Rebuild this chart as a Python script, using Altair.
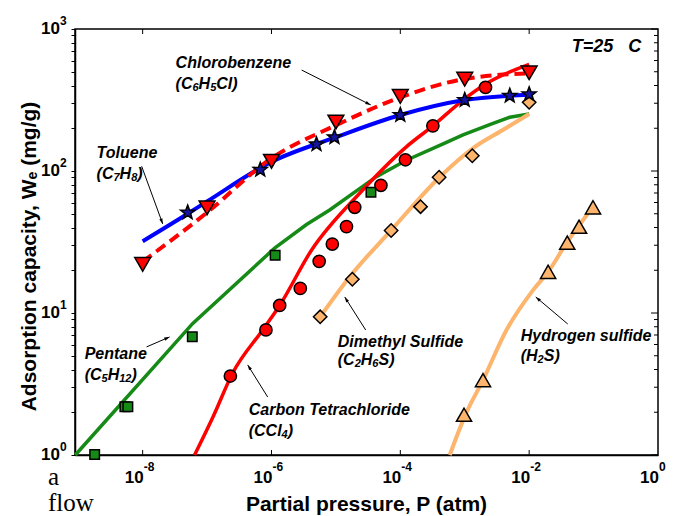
import math
import altair as alt
import pandas as pd

# ---------------- data ----------------
# Toluene (stars, blue line)
tol_mx = [5e-8, 6.7e-7, 5e-6, 9.5e-6, 1e-4, 1e-3, 5e-3, 1e-2]
tol_my = [51, 102, 154, 173, 248, 316, 339, 347]
tol_lx = [1e-8, 5e-8, 1e-7, 1e-6, 1e-5, 1e-4, 1e-3, 1e-2]
tol_ly = [32, 50, 61, 116, 173, 248, 316, 345]

# Chlorobenzene (down triangles, red dashed line)
chl_mx = [1e-8, 1e-7, 1e-6, 1e-5, 1e-4, 1e-3, 1e-2]
chl_my = [22, 55, 117, 221, 335, 443, 492]
chl_lx = [1e-8, 1e-7, 1e-6, 1e-5, 1e-4, 1e-3, 1e-2]
chl_ly = [23, 51, 123, 210, 330, 445, 487]

# Carbon tetrachloride (circles, red line)
ccl_mx = [2.3e-7, 8.2e-7, 1.34e-6, 2.8e-6, 5.5e-6, 8.8e-6, 1.46e-5, 1.96e-5, 5.0e-5, 1.2e-4, 3.2e-4, 2.1e-3]
ccl_my = [3.6, 7.6, 11.3, 14.9, 23.1, 30.6, 40.6, 55.5, 79.3, 120, 208, 388]
ccl_lx = [6.4e-8, 1.24e-7, 2.5e-7, 7.3e-7, 1.34e-6, 4.2e-6, 2.34e-5, 1.24e-4, 3.2e-4, 9.4e-4, 2.2e-3, 1e-2]
ccl_ly = [1, 1.86, 3.78, 7.6, 11.3, 27.8, 69.7, 148, 208, 316, 415, 564]

# Pentane (squares, green line)
pen_mx = [1.8e-9, 5.3e-9, 5.9e-9, 5.9e-8, 1.14e-6, 3.5e-5]
pen_my = [1.01, 2.19, 2.19, 6.8, 25.5, 70.8]
pen_lx = [9e-10, 6e-8, 1.12e-6, 3.5e-6, 8e-6, 4.26e-5, 1.24e-4, 4.9e-4, 9.4e-4, 2.5e-3, 5e-3, 1e-2]
pen_ly = [1, 8.45, 28.6, 42, 53.1, 91.2, 119, 157, 179.5, 213, 239, 252]

# Dimethyl sulfide (diamonds, orange line)
dms_mx = [5.7e-6, 1.8e-5, 7.2e-5, 2.06e-4, 4.0e-4, 1.31e-3, 1e-2]
dms_my = [9.4, 17.3, 38.1, 56.1, 90.3, 128, 305]
dms_lx = [5.8e-6, 1.64e-5, 7.3e-5, 4.1e-4, 1.35e-3, 3.9e-3, 1e-2]
dms_ly = [9.5, 18, 38.5, 90.8, 145, 194.6, 252]

# Hydrogen sulfide (up triangles, orange line)
h2s_mx = [9.75e-4, 1.92e-3, 1.97e-2, 3.9e-2, 5.95e-2, 9.8e-2]
h2s_my = [1.92, 3.37, 19.5, 31.3, 40.5, 55.5]
h2s_lx = [5.85e-4, 1.02e-3, 1.92e-3, 4.45e-3, 1.15e-2, 1.97e-2, 3.79e-2, 9.8e-2]
h2s_ly = [1, 1.91, 3.37, 7.59, 14.5, 19.5, 31, 56]

# annotations: compound names and formulas ("_" marks a subscript)
name_text = ["Chlorobenzene", "Toluene", "Pentane", "Carbon Tetrachloride",
             "Dimethyl Sulfide", "Hydrogen sulfide"]
formula_text = ["(C_6H_5Cl)", "(C_7H_8)", "(C_5H_12)", "(CCl_4)", "(C_2H_6S)", "(H_2S)"]
ann_x = [3.25e-8, 1.93e-9, 1.26e-9, 4.43e-7, 1.07e-5, 7.4e-3]
name_y = [577, 134, 5.14, 2.07, 6.25, 6.89]
formula_y = [410, 95.3, 3.66, 1.476, 4.67, 4.98]

arr_x1 = [2.94e-6, 9.65e-9, 1.15e-8, 8.73e-7, 2.9e-5, 0.0397]
arr_y1 = [514, 108, 5.77, 2.56, 7.59, 8.37]
arr_x2 = [3.47e-5, 2.05e-8, 2.62e-8, 4.27e-7, 1.37e-5, 0.01265]
arr_y2 = [292, 42.4, 6.78, 4.31, 12.97, 12.97]
arr_angle = [117, 160, 66.5, 328, 327.5, 310]

temp_text = "T=25\u00a0\u00a0\u00a0C"
temp_x, temp_y = 0.0458, 747

x_major = [1e-8, 1e-6, 1e-4, 1e-2, 1.0]
x_exp = ["-8", "-6", "-4", "-2", "0"]
y_major = [1, 10, 100, 1000]
y_exp = ["0", "1", "2", "3"]
y_minor = [m * d for d in [1, 10, 100] for m in range(2, 10)]

# ---------------- chart ----------------
W, H = 583, 426
LOG_XMIN, LOG_XMAX = -9.05, 0.0
PX_PER_DEC_X = W / (LOG_XMAX - LOG_XMIN)
PX_PER_DEC_Y = H / 3.0
FONT = "Liberation Sans"
xs = alt.Scale(type="log", domain=[10 ** LOG_XMIN, 10 ** LOG_XMAX], nice=False)
ys = alt.Scale(type="log", domain=[1, 1000], nice=False)

RED = "#FF0000"
BLUE = "#0000FF"
GREEN = "#168A16"
ORANGE = "#FDB46C"

x_axis = alt.Axis(values=x_major, labels=False, ticks=False, grid=False,
                  domainColor="black", domainWidth=1.5,
                  title="Partial pressure, P (atm)", titleFont=FONT,
                  titleFontSize=21, titleFontWeight="bold", titleColor="black",
                  titleX=291, titleY=49, titleBaseline="middle")
y_axis = alt.Axis(values=y_major + y_minor, labels=False, tickSize=4, tickColor="black",
                  tickWidth=1, grid=False, domainColor="black", domainWidth=1.5,
                  title="Adsorption capacity, Wₑ (mg/g)", titleFont=FONT, titleFontSize=21,
                  titleFontWeight="bold", titleColor="black", titleX=-46, titleY=227,
                  titleBaseline="middle", titleAngle=270, titleAlign="center")


def X(field):
    return alt.X(field, type="quantitative", scale=xs, axis=x_axis)


def Y(field):
    return alt.Y(field, type="quantitative", scale=ys, axis=y_axis)


def line_layer(xv, yv, color, width, dash=None, interp="monotone"):
    df = pd.DataFrame({"x": xv, "y": yv})
    kw = dict(color=color, strokeWidth=width, interpolate=interp, clip=False)
    if dash:
        kw["strokeDash"] = dash
    return alt.Chart(df).mark_line(**kw).encode(x=X("x"), y=Y("y"))


def point_layer(xv, yv, shape, fill, size):
    df = pd.DataFrame({"x": xv, "y": yv})
    return alt.Chart(df).mark_point(shape=shape, filled=True, fill=fill, stroke="black",
                                    strokeWidth=1.5, size=size, opacity=1).encode(
        x=X("x"), y=Y("y"))


# star symbol path
pts = []
for k in range(10):
    a = math.radians(-90 + 36 * k)
    r = 1.0 if k % 2 == 0 else 0.42
    pts.append(f"{r * math.cos(a):.3f},{r * math.sin(a):.3f}")
STAR = "M" + " L".join(pts) + " Z"
HEAD = "M0,0 L0.55,1.8 L-0.55,1.8 Z"

layers = [
    line_layer(pen_lx, pen_ly, GREEN, 3.5, interp="linear"),
    line_layer(dms_lx, dms_ly, ORANGE, 4),
    line_layer(h2s_lx, h2s_ly, ORANGE, 4),
    line_layer(ccl_lx, ccl_ly, RED, 3.5),
    line_layer(tol_lx, tol_ly, BLUE, 4),
    line_layer(chl_lx, chl_ly, RED, 4, dash=[11, 6]),
    point_layer(pen_mx, pen_my, "square", GREEN, 90),
    point_layer(dms_mx, dms_my, "diamond", ORANGE, 180),
    point_layer(h2s_mx, h2s_my, "triangle-up", ORANGE, 230),
    point_layer(ccl_mx, ccl_my, "circle", RED, 150),
    point_layer(chl_mx, chl_my, "triangle-down", RED, 250),
    point_layer(tol_mx, tol_my, STAR, "#1414A0", 220),
]

# inward ticks on the frame
xt = pd.DataFrame({"x": x_major[:-1]})
layers.append(alt.Chart(xt).mark_rule(color="black", strokeWidth=1).encode(
    x=X("x"), y=alt.value(H), y2=alt.value(H - 5)))
layers.append(alt.Chart(xt).mark_rule(color="black", strokeWidth=1).encode(
    x=X("x"), y=alt.value(0), y2=alt.value(5)))
layers.append(alt.Chart(pd.DataFrame({"y": y_minor})).mark_rule(color="black", strokeWidth=1).encode(
    y=Y("y"), x=alt.value(W), x2=alt.value(W - 4)))
layers.append(alt.Chart(pd.DataFrame({"y": y_major})).mark_rule(color="black", strokeWidth=1).encode(
    y=Y("y"), x=alt.value(W), x2=alt.value(W - 7)))

# tick labels as base "10" plus a raised exponent
LBL = dict(font=FONT, fontWeight="bold", color="black")
xl = pd.DataFrame({"x": x_major, "e": x_exp, "b": ["10"] * len(x_major)})
layers.append(alt.Chart(xl).mark_text(align="right", baseline="middle", fontSize=17, dx=1, **LBL).encode(
    x=X("x"), y=alt.value(H + 23), text="b:N"))
layers.append(alt.Chart(xl).mark_text(align="left", baseline="middle", fontSize=12, dx=1, **LBL).encode(
    x=X("x"), y=alt.value(H + 12), text="e:N"))
yl = pd.DataFrame({"y": y_major, "e": y_exp, "b": ["10"] * len(y_major)})
layers.append(alt.Chart(yl).mark_text(align="right", baseline="middle", fontSize=17, **LBL).encode(
    y=Y("y"), x=alt.value(-15), text="b:N"))
layers.append(alt.Chart(yl).mark_text(align="left", baseline="middle", fontSize=12, dy=-8, **LBL).encode(
    y=Y("y"), x=alt.value(-15), text="e:N"))

# arrows
adf = pd.DataFrame({"x1": arr_x1, "y1": arr_y1, "x2": arr_x2, "y2": arr_y2, "ang": arr_angle})
layers.append(alt.Chart(adf).mark_rule(color="black", strokeWidth=1).encode(
    x=X("x1"), y=Y("y1"), x2="x2:Q", y2="y2:Q"))
layers.append(alt.Chart(adf).mark_point(shape=HEAD, filled=True, color="black", size=36,
                                        opacity=1).encode(
    x=X("x2"), y=Y("y2"), angle=alt.Angle("ang:Q", scale=None)))

# annotation texts
ANN = dict(font=FONT, fontStyle="italic", fontWeight="bold", color="black")
MAIN, SUB, SUB_DROP = 16, 11, 4
ADV = {"(": 333, ")": 333, "C": 722, "H": 722, "l": 278, "S": 667}


def adv(s, size):
    return sum(ADV.get(c, 556) for c in s) * size / 1000.0


rows = []
for f, x0, y0 in zip(formula_text, ann_x, formula_y):
    off = 0.0
    parts = []
    i = 0
    while i < len(f):
        if f[i] == "_":
            j = i + 1
            while j < len(f) and f[j].isdigit():
                j += 1
            parts.append((f[i + 1:j], True))
            i = j
        else:
            j = i
            while j < len(f) and f[j] != "_":
                j += 1
            parts.append((f[i:j], False))
            i = j
    for seg, sub in parts:
        rows.append({"x": x0 * 10 ** (off / PX_PER_DEC_X),
                     "y": y0 * (10 ** (-SUB_DROP / PX_PER_DEC_Y) if sub else 1.0),
                     "t": seg, "sub": sub})
        off += adv(seg, SUB if sub else MAIN)
fdf = pd.DataFrame(rows)

ndf = pd.DataFrame({"x": ann_x, "y": name_y, "t": name_text})
layers.append(alt.Chart(ndf).mark_text(align="left", baseline="middle", fontSize=MAIN, **ANN).encode(
    x=X("x"), y=Y("y"), text="t:N"))
layers.append(alt.Chart(fdf[~fdf["sub"]]).mark_text(align="left", baseline="middle", fontSize=MAIN, **ANN).encode(
    x=X("x"), y=Y("y"), text="t:N"))
layers.append(alt.Chart(fdf[fdf["sub"]]).mark_text(align="left", baseline="middle", fontSize=SUB, **ANN).encode(
    x=X("x"), y=Y("y"), text="t:N"))
layers.append(alt.Chart(pd.DataFrame({"x": [temp_x], "y": [temp_y], "t": [temp_text]})).mark_text(
    align="left", baseline="middle", fontSize=18, **ANN).encode(
    x=X("x"), y=Y("y"), text="t:N"))

# stray page text below the figure
SER = dict(align="left", baseline="middle", font="Liberation Serif", fontSize=25, color="black")
layers.append(alt.Chart(pd.DataFrame({"t": ["a"]})).mark_text(**SER).encode(
    x=alt.value(-27), y=alt.value(H + 22), text="t:N"))
layers.append(alt.Chart(pd.DataFrame({"t": ["flow"]})).mark_text(**SER).encode(
    x=alt.value(-27), y=alt.value(H + 48), text="t:N"))

chart = alt.layer(*layers).properties(
    width=W, height=H,
    padding={"left": 75, "top": 29, "right": 15, "bottom": 61},
    autosize=alt.AutoSizeParams(type="none"),
).configure_view(stroke="black", strokeWidth=1.5)

chart.save("out.html", embed_options={"renderer": "svg", "actions": False})
